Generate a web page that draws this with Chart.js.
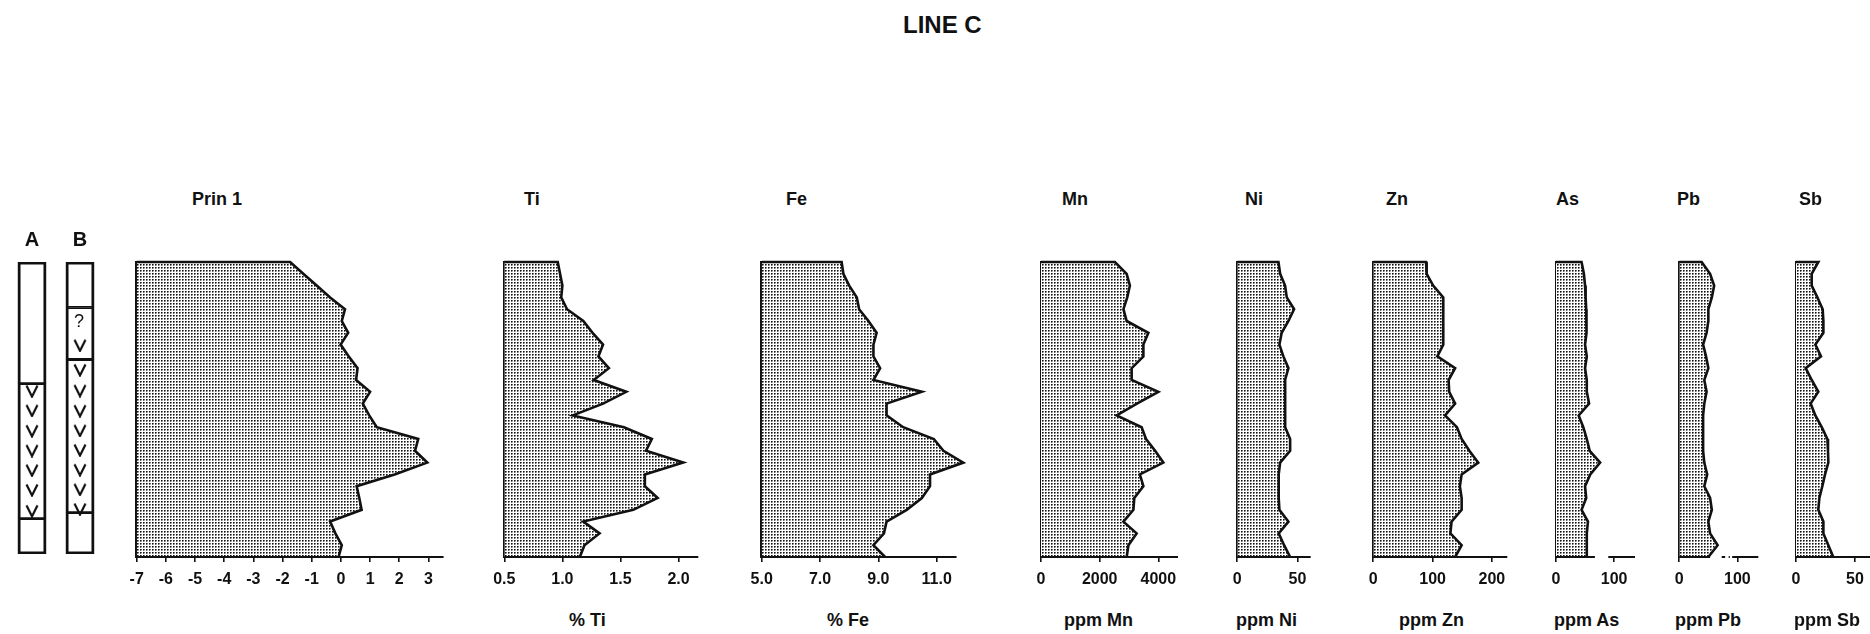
<!DOCTYPE html>
<html>
<head>
<meta charset="utf-8">
<title>Line C</title>
<script src="https://cdn.jsdelivr.net/npm/chart.js@4.4.1/dist/chart.umd.min.js"></script>
<style>
    html, body { margin: 0; padding: 0; background: #fff; overflow: hidden; }
    body { position: relative; width: 1870px; height: 634px; color: #111;
           font-family: "Liberation Sans", Arial, Helvetica, sans-serif; }
    canvas, .lbl { position: absolute; }
    .lbl { white-space: nowrap; line-height: 1; font-weight: bold; }
    #title { left: 903px; top: 13px; font-size: 24px; }
</style>
</head>
<body>
<div id="title" class="lbl">LINE C</div>
<script>
// sample positions down the section (0 = top sample)
const depth = [0, 1, 2, 3, 4, 5, 6, 7, 8, 9, 10, 11, 12, 13, 14, 15, 16, 17, 18, 19, 20, 21, 22, 23, 24, 25];

const prin1 = [-1.74, -1.29, -0.83, -0.37, 0.14, 0.03, 0.25, -0.01, 0.27, 0.57, 0.52, 1.0, 0.75, 0.97, 1.23, 2.65, 2.54, 2.96, 1.84, 0.54, 0.63, 0.71, -0.37, -0.19, 0.03, -0.08];
const ti = [0.96, 0.98, 1.0, 0.99, 1.04, 1.18, 1.26, 1.35, 1.31, 1.4, 1.27, 1.55, 1.35, 1.09, 1.53, 1.77, 1.72, 2.04, 1.71, 1.71, 1.82, 1.61, 1.18, 1.32, 1.19, 1.15];
const fe = [7.74, 7.8, 8.0, 8.26, 8.34, 8.66, 8.94, 8.83, 8.83, 9.06, 8.83, 10.49, 9.28, 9.28, 9.85, 10.9, 11.23, 11.91, 10.77, 10.77, 10.49, 9.97, 9.28, 9.19, 8.83, 9.23];
const mn = [2520, 2920, 3030, 2940, 2810, 2920, 3660, 3490, 3490, 3090, 3090, 4000, 3270, 2580, 3430, 3580, 3890, 4170, 3370, 3490, 3180, 3150, 2810, 3260, 2980, 2920];
const ni = [34.2, 35.6, 39.7, 41.1, 47.2, 42.5, 36.9, 35.0, 38.3, 42.5, 39.7, 39.7, 39.7, 39.7, 40.0, 43.9, 43.9, 35.6, 34.4, 34.4, 34.4, 35.0, 42.5, 34.4, 38.9, 43.9];
const zn = [89, 90, 101, 118, 118, 118, 118, 118, 108, 138, 127, 128, 138, 121, 141, 149, 162, 177, 149, 146, 149, 149, 132, 130, 149, 138];
const as = [44, 48, 50, 51, 52, 52, 53, 50, 53, 50, 53, 53, 57, 39, 47, 53, 58, 76, 59, 50, 52, 44, 55, 53, 53, 53];
const pb = [38.5, 53, 60, 56, 50, 50, 47, 41, 46, 50, 43, 47, 43, 41, 41, 41, 41, 43, 48, 43, 53, 56, 50, 53, 66, 50];
const sb = [18.9, 13.3, 13.3, 18.1, 22.6, 23.2, 23.2, 16.4, 21.2, 8.2, 13.3, 18.9, 12.4, 16.4, 21.8, 26.6, 27.1, 27.4, 24.6, 22.3, 19.8, 18.9, 23.2, 23.2, 27.4, 31.6];

// tick values under each profile
const prin1Ticks = [-7, -6, -5, -4, -3, -2, -1, 0, 1, 2, 3];
const tiTicks = [0.5, 1.0, 1.5, 2.0];
const feTicks = [5, 7, 9, 11];
const mnTicks = [0, 2000, 4000];
const niTicks = [0, 50];
const znTicks = [0, 100, 200];
const asTicks = [0, 100];
const pbTicks = [0, 100];
const sbTicks = [0, 50];

// lithology logs A and B: unit boundaries and volcanic symbol positions
const logNames = ["A", "B"];
const logABreaks = [0, 10.48, 22.12, 25.17];
const logBBreaks = [0, 3.92, 8.4, 21.6, 25.17];
const logAVolcanic = [11.13, 12.8, 14.55, 16.25, 17.95, 19.65, 21.45];
const logBVolcanic = [7.18, 9.3, 11.08, 12.82, 14.52, 16.21, 17.91, 19.6, 21.3];
const logBQuery = 5.2;

const INK = "#111";
const FONT = '"Liberation Sans", Arial, Helvetica, sans-serif';

// layout of each profile: pixel span of the axis, where its labels go
const panels = [
    { name: "Prin 1", unit: null, values: prin1, ticks: prin1Ticks, min: -7, max: 3.52, px: [136.7, 443.6], titleX: 192, digits: 0 },
    { name: "Ti", unit: "% Ti", values: ti, ticks: tiTicks, min: 0.5, max: 2.17, px: [504.3, 698.3], titleX: 524, unitX: 569, digits: 1 },
    { name: "Fe", unit: "% Fe", values: fe, ticks: feTicks, min: 5, max: 12, axisEnd: 11.68, px: [761.7, 965.9], titleX: 786, unitX: 827, digits: 1 },
    { name: "Mn", unit: "ppm Mn", values: mn, ticks: mnTicks, min: 0, max: 4670, px: [1041, 1178], titleX: 1062, unitX: 1064, digits: 0 },
    { name: "Ni", unit: "ppm Ni", values: ni, ticks: niTicks, min: 0, max: 61, px: [1237.3, 1310.7], titleX: 1245, unitX: 1236, digits: 0 },
    { name: "Zn", unit: "ppm Zn", values: zn, ticks: znTicks, min: 0, max: 226, px: [1373.3, 1507.3], titleX: 1386, unitX: 1399, digits: 0 },
    { name: "As", unit: "ppm As", values: as, ticks: asTicks, min: 0, max: 136, px: [1556, 1635], titleX: 1556, unitX: 1554, digits: 0,
      spans: [[0, 67], [90, 136]] },
    { name: "Pb", unit: "ppm Pb", values: pb, ticks: pbTicks, min: 0, max: 136, px: [1679.3, 1758.3], titleX: 1677, unitX: 1675, digits: 0,
      spans: [[0, 53], [73, 79], [85, 87], [91, 136]] },
    { name: "Sb", unit: "ppm Sb", values: sb, ticks: sbTicks, min: 0, max: 62.7, px: [1796, 1870], titleX: 1799, unitX: 1794, digits: 0 },
];

// stippled fill used under every profile
const stipple = (() => {
    const tile = document.createElement("canvas");
    tile.width = 3;
    tile.height = 3;
    const g = tile.getContext("2d");
    g.fillStyle = "#fff";
    g.fillRect(0, 0, 3, 3);
    g.fillStyle = "#bbb";
    g.fillRect(1, 1, 1, 1);
    g.fillStyle = "#6a6a6a";
    g.fillRect(1, 0, 1, 1);
    g.fillRect(0, 1, 1, 1);
    g.fillStyle = "#111";
    g.fillRect(0, 0, 1, 1);
    return g.createPattern(tile, "repeat");
})();

// "V" volcanic symbol for the logs
const vee = (() => {
    const c = document.createElement("canvas");
    c.width = 14;
    c.height = 14;
    const g = c.getContext("2d");
    g.strokeStyle = INK;
    g.lineWidth = 2.2;
    g.beginPath();
    g.moveTo(1.5, 1.5);
    g.lineTo(7, 12.5);
    g.lineTo(12.5, 1.5);
    g.stroke();
    return c;
})();

const addLabel = (text, left, top, size) => {
    const div = document.createElement("div");
    div.className = "lbl";
    div.textContent = text;
    div.style.left = left + "px";
    div.style.top = top + "px";
    div.style.fontSize = size + "px";
    document.body.appendChild(div);
};

// bottom axis line, drawn in pieces where the original line is broken
const axisLine = (spans) => ({
    id: "axisLine",
    afterDraw(chart) {
        const { ctx, chartArea } = chart;
        const scale = chart.scales.x;
        ctx.save();
        ctx.strokeStyle = INK;
        ctx.lineWidth = 2.2;
        ctx.beginPath();
        spans.forEach(([a, b]) => {
            ctx.moveTo(scale.getPixelForValue(a), chartArea.bottom);
            ctx.lineTo(scale.getPixelForValue(b), chartArea.bottom);
        });
        ctx.stroke();
        ctx.restore();
    },
});

const makeProfile = (p) => {
    const canvas = document.createElement("canvas");
    const left = Math.floor(p.px[0]) - 20;
    const width = Math.ceil(p.px[1]) + 24 - left;
    canvas.width = width;
    canvas.height = 360;
    canvas.style.left = left + "px";
    canvas.style.top = "240px";
    document.body.appendChild(canvas);

    // top edge from the axis to the first sample, then the profile itself
    const outline = [{ x: p.min, y: depth[0] }].concat(p.values.map((v, i) => ({ x: v, y: depth[i] })));
    const spans = p.spans || [[p.min, p.axisEnd ?? p.max]];

    return new Chart(canvas, {
        type: "line",
        data: {
            datasets: [
                {
                    data: outline,
                    fill: { value: p.min },
                    backgroundColor: stipple,
                    borderColor: INK,
                    borderWidth: 2.6,
                    borderJoinStyle: "miter",
                    pointRadius: 0,
                    tension: 0,
                    clip: false,
                },
            ],
        },
        options: {
            indexAxis: "y",
            responsive: false,
            animation: false,
            devicePixelRatio: 1,
            events: [],
            layout: {
                padding: { left: p.px[0] - left, right: width - (p.px[1] - left), top: 22, bottom: 3 },
            },
            plugins: {
                legend: { display: false },
                tooltip: { enabled: false },
            },
            scales: {
                x: {
                    type: "linear",
                    min: p.min,
                    max: p.max,
                    afterBuildTicks: (scale) => {
                        scale.ticks = p.ticks.map((v) => ({ value: v }));
                    },
                    afterFit: (scale) => {
                        scale.height = 40;
                        scale.paddingLeft = 0;
                        scale.paddingRight = 0;
                    },
                    ticks: {
                        color: INK,
                        font: { family: FONT, size: 16, weight: "bold" },
                        padding: 8,
                        autoSkip: false,
                        maxRotation: 0,
                        callback: (v) => (p.digits ? Number(v).toFixed(p.digits) : String(v)),
                    },
                    grid: { drawOnChartArea: false, drawTicks: true, tickLength: 5, color: INK, lineWidth: 1.6 },
                    border: { display: false },
                },
                y: {
                    type: "linear",
                    min: depth[0],
                    max: depth[depth.length - 1],
                    reverse: true,
                    ticks: { display: false },
                    grid: { display: false, drawTicks: false },
                    border: { display: true, color: INK, width: 2.6 },
                },
            },
        },
        plugins: [axisLine(spans)],
    });
};

const makeLogs = () => {
    const canvas = document.createElement("canvas");
    canvas.width = 112;
    canvas.height = 362;
    canvas.style.left = "0px";
    canvas.style.top = "200px";
    document.body.appendChild(canvas);

    const segments = (breaks) => breaks.slice(1).map((b, i) => [breaks[i], b]);
    const aSegs = segments(logABreaks);
    const bSegs = segments(logBBreaks);
    const barStyle = {
        type: "bar",
        backgroundColor: "rgba(0,0,0,0)",
        borderColor: INK,
        borderSkipped: false,
        barThickness: 28,
        grouped: false,
    };
    const datasets = [];
    for (let i = 0; i < Math.max(aSegs.length, bSegs.length); i++) {
        datasets.push({ ...barStyle, borderWidth: 1.1, data: [aSegs[i] || null, bSegs[i] || null] });
    }
    // outer frame of each column
    datasets.push({
        ...barStyle,
        borderWidth: 2.2,
        data: [
            [logABreaks[0], logABreaks[logABreaks.length - 1]],
            [logBBreaks[0], logBBreaks[logBBreaks.length - 1]],
        ],
    });
    datasets.push({
        type: "line",
        showLine: false,
        pointStyle: vee,
        pointRadius: 7,
        data: logAVolcanic.map((d) => ({ x: "A", y: d })).concat(logBVolcanic.map((d) => ({ x: "B", y: d }))),
    });

    const query = {
        id: "logQuery",
        afterDatasetsDraw(chart) {
            const { ctx, scales } = chart;
            ctx.save();
            ctx.font = "18px " + FONT;
            ctx.fillStyle = INK;
            ctx.textAlign = "center";
            ctx.textBaseline = "middle";
            ctx.fillText("?", scales.x.getPixelForValue(1) - 1, scales.y.getPixelForValue(logBQuery));
            ctx.restore();
        },
    };

    return new Chart(canvas, {
        type: "bar",
        data: { labels: logNames, datasets },
        options: {
            responsive: false,
            animation: false,
            devicePixelRatio: 1,
            events: [],
            layout: { padding: { left: 1.5, right: 0.5, top: 32, bottom: 3 } },
            plugins: { legend: { display: false }, tooltip: { enabled: false } },
            scales: {
                x: {
                    position: "top",
                    afterFit: (scale) => {
                        scale.height = 30;
                        scale.paddingLeft = 0;
                        scale.paddingRight = 0;
                    },
                    ticks: { color: INK, font: { family: FONT, size: 20, weight: "bold" }, padding: 10 },
                    grid: { display: false, drawTicks: false },
                    border: { display: false },
                },
                y: {
                    type: "linear",
                    min: logABreaks[0],
                    max: logABreaks[logABreaks.length - 1],
                    reverse: true,
                    display: false,
                },
            },
        },
        plugins: [query],
    });
};

makeLogs();
panels.forEach((p) => {
    makeProfile(p);
    addLabel(p.name, p.titleX, 190, 18);
    if (p.unit) addLabel(p.unit, p.unitX, 611, 18);
});
</script>
</body>
</html>
